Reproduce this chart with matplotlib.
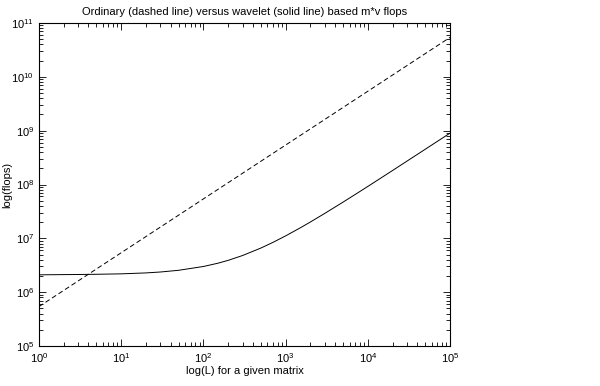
import matplotlib
matplotlib.use("Agg")
import matplotlib.pyplot as plt
from matplotlib.ticker import LogLocator

plt.rcParams['font.family'] = ['Liberation Sans', 'DejaVu Sans']
plt.rcParams['mathtext.fontset'] = 'custom'
plt.rcParams['mathtext.rm'] = 'Liberation Sans'

# Ordinary (dashed) m*v flops
L_ord = [1, 10, 100, 1000, 10000, 100000]
flops_ord = [5.4e5, 5.4e6, 5.4e7, 5.4e8, 5.4e9, 5.4e10]

# Wavelet-based (solid) m*v flops
L_wav = [1, 2, 3, 5, 10, 20, 30, 50, 100, 150, 200, 300, 500, 700, 1000,
         1500, 2000, 3000, 5000, 7000, 10000, 20000, 50000, 100000]
flops_wav = [2.10e6, 2.12e6, 2.13e6, 2.15e6, 2.19e6, 2.28e6, 2.37e6, 2.55e6,
             3.0e6, 3.45e6, 3.9e6, 4.8e6, 6.6e6, 8.4e6, 1.11e7,
             1.56e7, 2.01e7, 2.91e7, 4.71e7, 6.51e7, 9.2e7, 1.82e8, 4.52e8, 9.0e8]

title = "Ordinary (dashed line) versus wavelet (solid line) based m*v flops"
xlabel = "log(L) for a given matrix"
ylabel = "log(flops)"

fig = plt.figure(figsize=(6.0, 3.86), dpi=100)
ax = fig.add_axes([0.065, 0.1036, 0.685, 0.8368])

ax.loglog(L_ord, flops_ord, color='black', lw=0.7, linestyle=(0, (5, 3)))
ax.loglog(L_wav, flops_wav, color='black', lw=0.7)

ax.set_xlim(1, 1e5)
ax.set_ylim(1e5, 1e11)
ax.xaxis.set_major_locator(LogLocator(base=10, numticks=10))
ax.yaxis.set_major_locator(LogLocator(base=10, numticks=10))
ax.xaxis.set_minor_locator(LogLocator(base=10, subs=range(2, 10), numticks=20))
ax.yaxis.set_minor_locator(LogLocator(base=10, subs=range(2, 10), numticks=20))

ax.tick_params(which='both', direction='in', top=True, right=True, labelsize=8, width=0.6)
ax.tick_params(which='major', length=5)
ax.tick_params(which='minor', length=3)
for s in ax.spines.values():
    s.set_linewidth(0.8)

ax.xaxis.get_offset_text().set_visible(False)
ax.yaxis.get_offset_text().set_visible(False)

ax.set_title(title, fontsize=8, pad=6)
ax.set_xlabel(xlabel, fontsize=8, labelpad=1)
ax.set_ylabel(ylabel, fontsize=8)
ax.yaxis.set_label_coords(-0.064, 0.5)

fig.savefig("out.png", dpi=100, facecolor='white')
